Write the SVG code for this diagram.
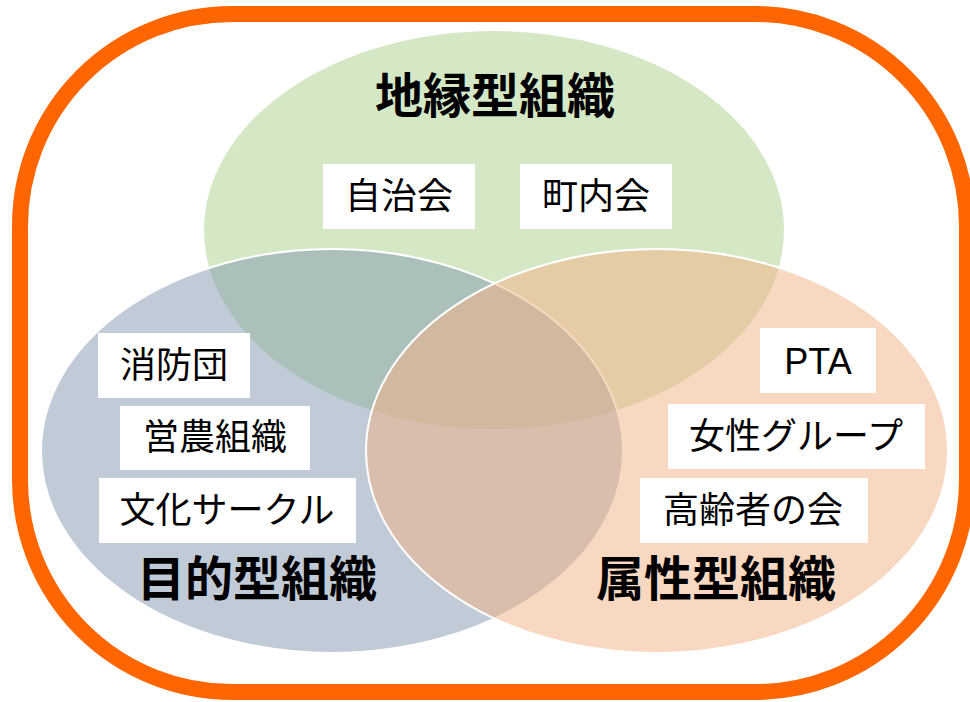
<svg xmlns="http://www.w3.org/2000/svg" width="970" height="702" viewBox="0 0 970 702">
<style>
.c{stroke:#fff;stroke-width:2;fill-opacity:0.5}
.box{fill:#fff}
.t{font-family:"Noto Sans CJK JP","Noto Sans",sans-serif;font-size:36px;fill:#000;text-anchor:middle}
.lat{font-family:"Liberation Sans",Arial,sans-serif}
.h{font-family:"Noto Sans CJK JP","Noto Sans",sans-serif;font-size:48px;font-weight:bold;fill:#000;text-anchor:middle}
</style>
<rect x="0" y="0" width="970" height="702" fill="#fff"/>
<rect id="frame" x="20" y="14" width="947" height="678" rx="212" ry="212" fill="none" stroke="#ff6600" stroke-width="16"/>
<g id="circles">
<ellipse id="green" class="c" cx="494" cy="230" rx="291" ry="200" fill="#a9d18e"/>
<ellipse id="blue" class="c" cx="332" cy="451" rx="291" ry="202" fill="#8497b0"/>
<ellipse id="orange" class="c" cx="657" cy="451" rx="291" ry="202" fill="#f4b183"/>
</g>
<g id="title-chien"><text class="h" x="495" y="113">地縁型組織</text></g>
<g id="title-mokuteki"><text class="h" x="257" y="596">目的型組織</text></g>
<g id="title-zokusei"><text class="h" x="716" y="596">属性型組織</text></g>
<g id="n1"><rect class="box" x="323" y="164" width="152" height="65"/><text class="t" x="399" y="209">自治会</text></g>
<g id="n2"><rect class="box" x="520" y="164" width="152" height="65"/><text class="t" x="596" y="209">町内会</text></g>
<g id="n3"><rect class="box" x="98" y="333" width="152" height="65"/><text class="t" x="174" y="378">消防団</text></g>
<g id="n4"><rect class="box" x="120" y="406" width="190" height="64"/><text class="t" x="215" y="450">営農組織</text></g>
<g id="n5"><rect class="box" x="99" y="478" width="257" height="65"/><text class="t" x="227" y="523">文化サークル</text></g>
<g id="n6"><rect class="box" x="760" y="328" width="116" height="65"/><text class="t lat" x="818" y="374">PTA</text></g>
<g id="n7"><rect class="box" x="668" y="404" width="257" height="65"/><text class="t" x="796" y="449">女性グループ</text></g>
<g id="n8"><rect class="box" x="640" y="478" width="228" height="65"/><text class="t" x="753" y="523">高齢者の会</text></g>
</svg>
